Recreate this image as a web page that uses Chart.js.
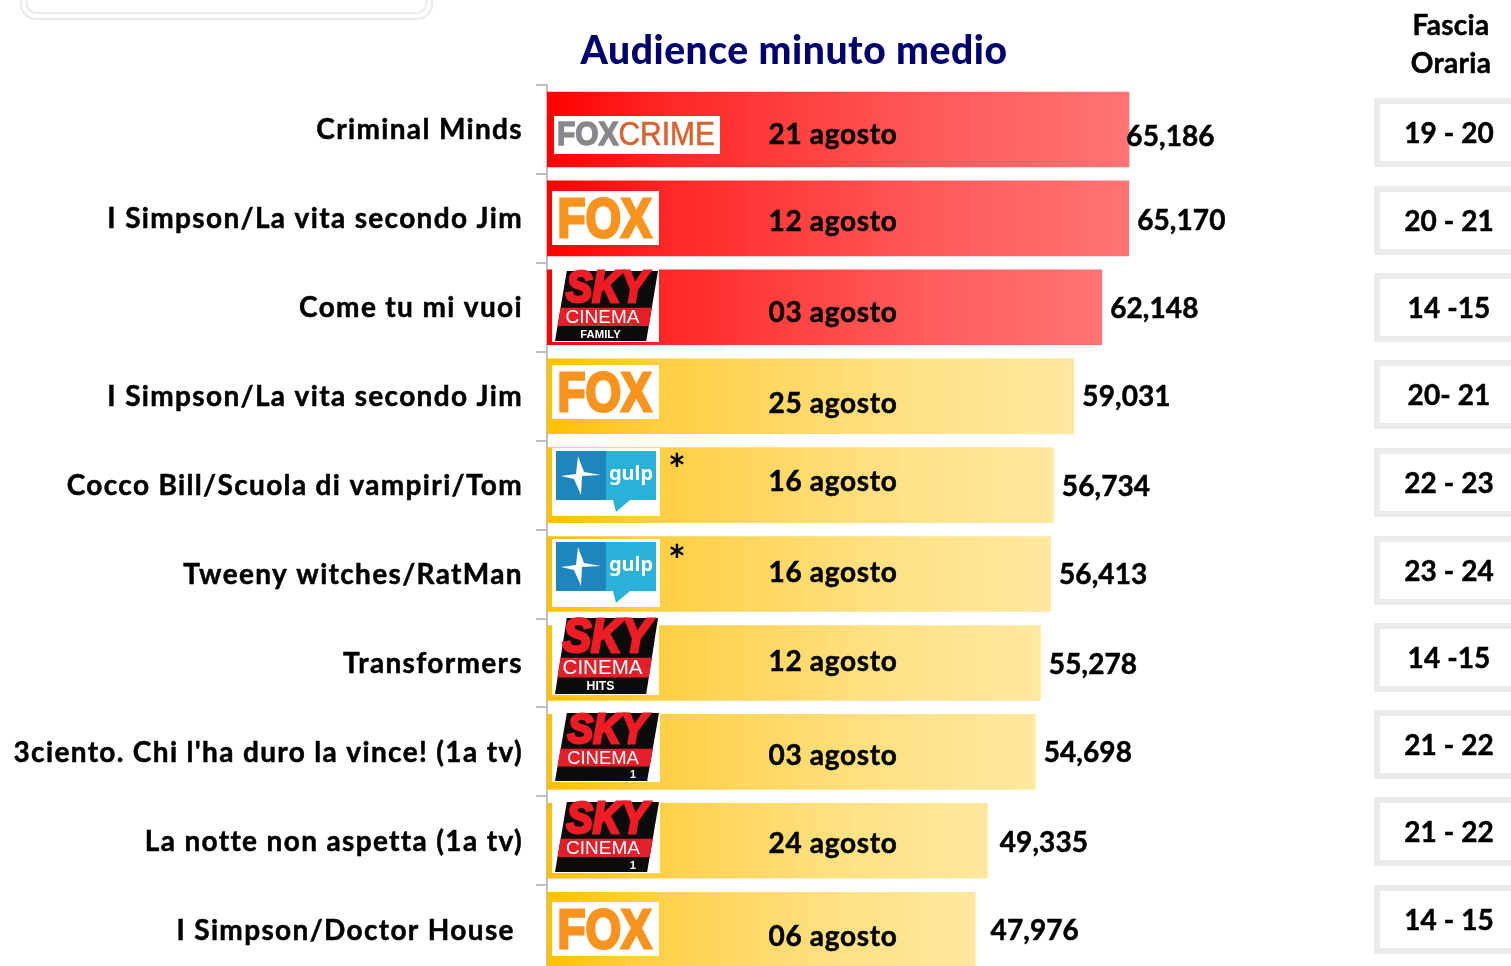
<!DOCTYPE html>
<html><head><meta charset="utf-8">
<style>html,body{margin:0;padding:0;background:#fff;overflow:hidden;width:1511px;height:966px}
#w{position:absolute;left:0;top:0;width:1511px;height:1004px}</style>
<script src="https://cdn.jsdelivr.net/npm/chart.js@4/dist/chart.umd.min.js"></script>
</head><body><div id="w"><canvas id="c" width="1511" height="1004"></canvas></div>
<script>
const programmes = ["Criminal Minds","I Simpson/La vita secondo Jim","Come tu mi vuoi","I Simpson/La vita secondo Jim","Cocco Bill/Scuola di vampiri/Tom","Tweeny witches/RatMan","Transformers","3ciento. Chi l'ha duro la vince! (1a tv)","La notte non aspetta (1a tv)","I Simpson/Doctor House "];
const audience = [65186,65170,62148,59031,56734,56413,55278,54698,49335,47976];
const dates = ["21 agosto","12 agosto","03 agosto","25 agosto","16 agosto","16 agosto","12 agosto","03 agosto","24 agosto","06 agosto"];
const slots = ["19 - 20","20 - 21","14 -15","20- 21","22 - 23","23 - 24","14 -15","21 - 22","21 - 22","14 - 15"];
const channels = ["foxcrime","fox","sky:FAMILY","fox","gulp","gulp","sky:HITS","sky:1","sky:1","fox"];
const starred = [false,false,false,false,true,true,false,false,false,false];
const headerTitle = "Audience minuto medio";
const headerSlot = ["Fascia","Oraria"];

const F = "Lato, 'Noto Sans', sans-serif";
// small per-row nudges relative to the band centre / bar end
const dateNudge = [6,4,6,8,-3,-1,-1,4,3,7];
const valueNudge = [-3,8,8,8,8,8,8,8,12,15];
const valueY = [8,3,2,1,2,1,2,1,2,1];
const logoBox = [[554,116,720,154],[552,191,659,245],[552,269,659,342],[552,365,659,419],[552,448,660,516],[552,539,660,607],[552,616,659,695],[552,711,660,782],[552,800,660,873],[552,902,659,956]];
const slotTop = [98,186,273,360,448,536,623,710,797,885];

function barGradient(ctx,stops){
  const ch=ctx.chart,xs=ch.scales.x;
  const g = ch.ctx.createLinearGradient(xs.getPixelForValue(0),0,xs.getPixelForValue(ctx.raw),0);
  stops.forEach(s=>g.addColorStop(s[0],s[1])); return g;
}
function drawFox(c,b){
  const [x0,y0,x1,y1]=b;
  c.save();c.letterSpacing='0px';c.fillStyle='#f7931e';c.textAlign='center';c.textBaseline='middle';
  c.font="bold 58px 'Liberation Sans', Arial, sans-serif";
  const cx=(x0+x1)/2,cy=(y0+y1)/2;
  c.translate(cx-1,cy+2);c.scale(.79,.97);
  c.fillText('FOX',0,2);c.strokeStyle='#f7931e';c.lineWidth=3;c.strokeText('FOX',0,2);c.restore();
}
function drawFoxCrime(c,b){
  const [x0,y0,x1,y1]=b;
  c.save();c.letterSpacing='0px';c.textBaseline='middle';c.textAlign='left';
  c.font="bold 34px 'Liberation Sans', sans-serif";
  c.fillStyle='#87878c';c.translate(x0+3,(y0+y1)/2+1);c.scale(.88,1);
  c.fillText('FOX',0,0);c.strokeStyle='#87878c';c.lineWidth=1.5;c.strokeText('FOX',0,0);
  const w=c.measureText('FOX').width;
  c.fillStyle='#d8632e';c.strokeStyle='#d8632e';c.lineWidth=.6;c.font="34px 'Liberation Sans', sans-serif";c.fillText('CRIME',w,0);c.strokeText('CRIME',w,0);
  c.restore();
}
function drawSky(c,b,sub){
  const [x0,y0,x1,y1]=b;const W=x1-x0,H=y1-y0;
  c.save();c.letterSpacing='0px';c.translate(x0,y0);
  const top=2,bot=H-1,skew=(W*.11);
  const L=3;const R=W-1;
  c.fillStyle='#0b0b0b';c.beginPath();c.moveTo(L+skew,top);c.lineTo(R,top);c.lineTo(R-skew,bot);c.lineTo(L,bot);c.closePath();c.fill();
  const bT=H*.53,bB=H*.78;
  const xAt=(y,left)=>left?(L+skew*(1-(y-top)/(bot-top))):(R-skew*(y-top)/(bot-top));
  c.fillStyle='#e3202a';c.beginPath();c.moveTo(xAt(bT,true),bT);c.lineTo(xAt(bT,false),bT);c.lineTo(xAt(bB,false),bB);c.lineTo(xAt(bB,true),bB);c.closePath();c.fill();
  c.textAlign='center';c.textBaseline='middle';
  c.fillStyle='#ee1c25';c.font="italic bold "+(H*.6)+"px 'Liberation Sans', sans-serif";
  c.save();c.translate(W/2+1,H*.29);c.scale(.9,1);c.lineWidth=3;c.strokeStyle='#ee1c25';c.fillText('SKY',0,0);c.strokeText('SKY',0,0);c.restore();
  c.fillStyle='#fff';c.font=(H*.26)+"px 'Liberation Sans', sans-serif";c.fillText('CINEMA',W/2-3,(bT+bB)/2+1);
  c.font="bold "+(H*.155)+"px 'Liberation Sans', sans-serif";
  if(sub==='1'){c.fillText('1',W*.75,(bB+bot)/2+1);}
  else c.fillText(sub,W/2-5,(bB+bot)/2+1);
  c.restore();
}
function drawGulp(c,b){
  c.save();c.letterSpacing='0px';c.translate(b[0],b[1]);
  c.fillStyle='#1f86bd';c.fillRect(4,3,50,49);
  c.fillStyle='#2bb1d8';c.fillRect(54,3,50,49);
  c.beginPath();c.moveTo(61,52);c.lineTo(78,52);c.lineTo(64,64);c.closePath();c.fill();
  c.fillStyle='#fff';
  c.beginPath();c.moveTo(26,8);c.lineTo(32,24);c.lineTo(49,27);c.lineTo(30,28);c.lineTo(29,47);c.lineTo(22,31);c.lineTo(9,28);c.lineTo(24,26);c.closePath();c.fill();
  c.font="bold 20px 'Noto Sans', sans-serif";c.textAlign='center';c.textBaseline='middle';c.fillText('gulp',79,26);
  c.restore();
}
function emboldenedText(c,t,x,y){c.fillText(t,x,y);c.lineWidth=.5;c.strokeStyle=c.fillStyle;c.strokeText(t,x,y);}
const overlay = {
  id:'overlay',
  beforeLayout(ch){ch.ctx.letterSpacing='1.35px';},
  afterDatasetsDraw(ch){
    const c=ch.ctx,xs=ch.scales.x,ys=ch.scales.y;
    c.save();
    c.letterSpacing='0px';
    c.strokeStyle='#ebebeb';c.lineWidth=2.5;
    c.beginPath();c.roundRect(21,-40,411,59,15);c.stroke();
    c.lineWidth=2;c.beginPath();c.roundRect(26.5,-40,400,53,10);c.stroke();
    c.fillStyle='#00006e';c.font="900 39px "+F;c.textAlign='center';c.textBaseline='middle';
    c.letterSpacing='0.55px';
    c.fillText(headerTitle,794,51);
    c.fillStyle='#000';c.font="bold 28px "+F;
    c.letterSpacing='0.3px';
    emboldenedText(c,headerSlot[0],1451,26);emboldenedText(c,headerSlot[1],1451,64);
    audience.forEach((v,i)=>{
      const yc=ys.getPixelForValue(i),xe=xs.getPixelForValue(v);
      const b=logoBox[i];
      c.fillStyle='#fff';c.fillRect(b[0],b[1],b[2]-b[0],b[3]-b[1]);
      const k=channels[i];
      if(k==='fox')drawFox(c,b);
      else if(k==='foxcrime')drawFoxCrime(c,b);
      else if(k==='gulp')drawGulp(c,b);
      else drawSky(c,b,k.split(':')[1]);
      if(starred[i]){c.fillStyle='#000';c.font="bold 42px "+F;c.textAlign='center';c.textBaseline='middle';c.fillText('*',677,b[1]+23);}
      c.fillStyle='#000';c.textBaseline='middle';
      c.font="bold 28px "+F;c.textAlign='center';
      c.letterSpacing='0.7px';
      emboldenedText(c,dates[i],833,yc+dateNudge[i]);
      c.textAlign='left';
      c.letterSpacing='0.1px';
      c.fillStyle='#000';
      emboldenedText(c,v.toLocaleString('en-US'),xe+valueNudge[i],yc+valueY[i]);
      const t=slotTop[i];
      c.strokeStyle='#ebebeb';c.lineWidth=6;c.strokeRect(1377,t+3,160,63);
      c.textAlign='center';c.fillStyle='#000';
      emboldenedText(c,slots[i],1449,t+36);
    });
    c.restore();
  }
};
const redStops=[[0,'#ff0000'],[.2,'#ff2626'],[.66,'#ff5a5a'],[1,'#ff7474']];
const yellowStops=[[0,'#ffc000'],[.2,'#ffce40'],[.66,'#ffe083'],[1,'#ffe89f']];
new Chart(document.getElementById('c'),{
  type:'bar',
  data:{labels:programmes,datasets:[{
    data:audience,
    barPercentage:.85,categoryPercentage:1,
    backgroundColor(ctx){
      if(!ctx.chart.chartArea||ctx.raw===undefined) return '#f00';
      return barGradient(ctx,ctx.dataIndex<3?redStops:yellowStops);
    }
  }]},
  plugins:[overlay],
  options:{
    indexAxis:'y',responsive:false,animation:false,devicePixelRatio:1,
    layout:{padding:{top:85,bottom:7,left:0,right:160}},
    plugins:{legend:{display:false},tooltip:{enabled:false},title:{display:false}},
    scales:{
      x:{display:false,min:0,max:90000},
      y:{
        afterFit(s){s.width=547},
        border:{color:'#bfbfbf',width:2},
        grid:{drawOnChartArea:false,color:'#bfbfbf',lineWidth:2,tickLength:11},
        ticks:{color:'#000',font:{family:F,size:28,weight:'bold'},padding:13,labelOffset:1,autoSkip:false,textStrokeColor:'#000',textStrokeWidth:.5}
      }
    }
  }
});
</script></body></html>
